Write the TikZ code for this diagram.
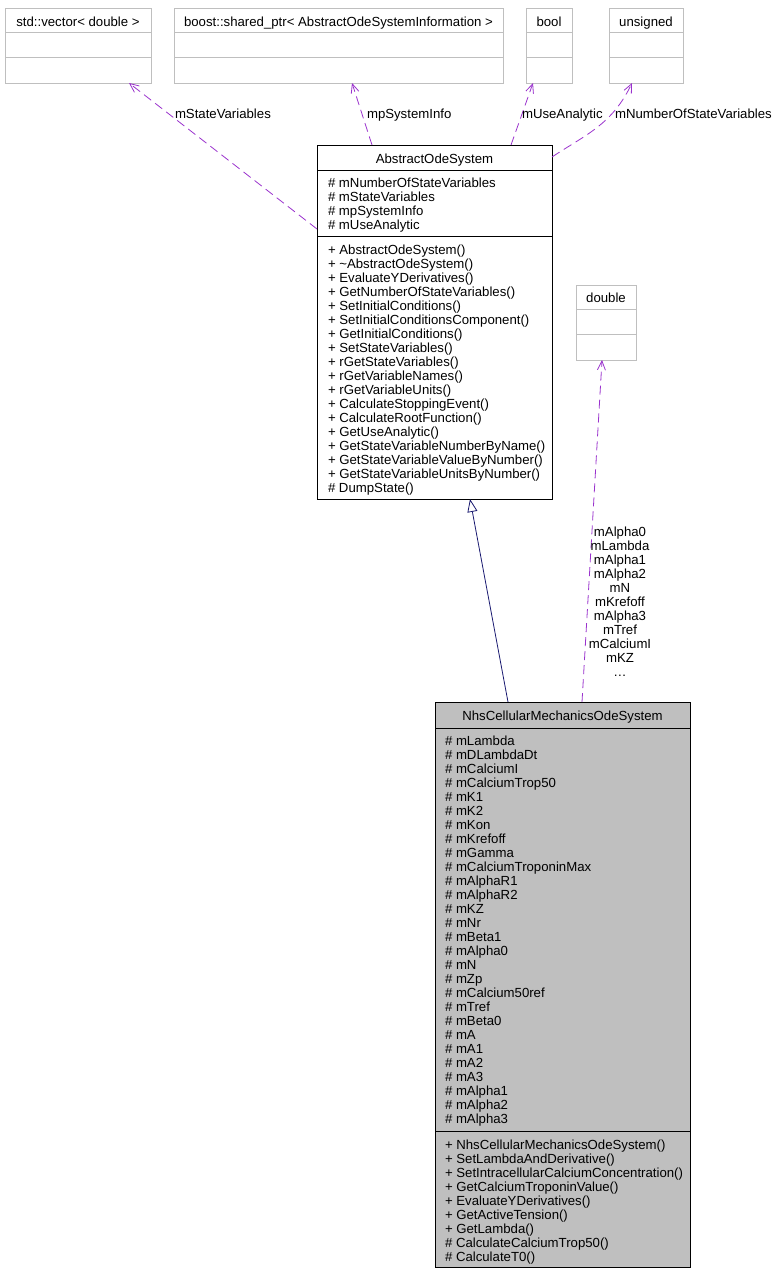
\documentclass[tikz,border=0pt]{standalone}
\usepackage{fontspec}
\setmainfont{Liberation Sans}
\usetikzlibrary{arrows.meta,calc}
\definecolor{edgepurple}{HTML}{9A32CD}
\definecolor{inhblue}{HTML}{191970}
\definecolor{boxgray}{HTML}{BFBFBF}
\begin{document}
\begin{tikzpicture}[x=1pt,y=-1pt,
  txt/.style={font=\fontsize{13.2}{14}\selectfont, inner sep=0pt, outer sep=0pt},
  cls/.style={draw, inner sep=0pt, outer sep=0pt, anchor=north west, line width=0.9pt},
  ext/.style={cls, draw=boxgray},
  divline/.style={line width=0.9pt},
  dep/.style={edgepurple, line width=0.8pt, dash pattern=on 9pt off 5pt, -{Straight Barb[length=9pt,width=8pt]}},
  inh/.style={inhblue, line width=0.8pt, -{Triangle[open,fill=white,length=13pt,width=10pt]}}
]
\useasboundingbox (0,0) rectangle (776,1272);

% ---------- external type boxes ----------
\node[ext, minimum width=146pt, minimum height=75pt] (vec) at (5,8) {};
\node[ext, minimum width=329pt, minimum height=75pt] (boost) at (174,8) {};
\node[ext, minimum width=46pt, minimum height=75pt] (bool) at (526,8) {};
\node[ext, minimum width=74pt, minimum height=75pt] (uns) at (609,8) {};
\node[ext, minimum width=60pt, minimum height=75pt] (dbl) at (576,285) {};
\foreach \b in {vec,boost,bool,uns,dbl}{
  \draw[divline, boxgray] ($(\b.north west)+(0,24)$) -- ($(\b.north east)+(0,24)$);
  \draw[divline, boxgray] ($(\b.north west)+(0,49)$) -- ($(\b.north east)+(0,49)$);
}
\node[txt, anchor=base] (vect) at ($(vec.north)+(0,18)$) {std::vector< double >};
\node[txt, anchor=base] (boostt) at ($(boost.north)+(0,18)$) {boost::shared\_ptr< AbstractOdeSystemInformation >};
\node[txt, anchor=base] (boolt) at ($(bool.north)+(0,18)$) {bool};
\node[txt, anchor=base] (unst) at ($(uns.north)+(0,18)$) {unsigned};
\node[txt, anchor=base] (dblt) at ($(dbl.north)+(0,17.5)$) {double};

% ---------- AbstractOdeSystem ----------
\node[cls, minimum width=235pt, minimum height=354pt] (abs) at (317,145) {};
\draw[divline] ($(abs.north west)+(0,25)$) -- ($(abs.north east)+(0,25)$);
\draw[divline] ($(abs.north west)+(0,91)$) -- ($(abs.north east)+(0,91)$);
\node[txt, anchor=base] (abst) at ($(abs.north)+(0,18.5)$) {AbstractOdeSystem};
\foreach \t [count=\i from 0] in {mNumberOfStateVariables,mStateVariables,mpSystemInfo,mUseAnalytic}{
  \node[txt, anchor=base west] (absa\i) at ($(abs.north west)+(11,42+14*\i)$) {\# \t};
}
\foreach \t [count=\i from 0] in {{+ AbstractOdeSystem()},{+ \textasciitilde AbstractOdeSystem()},{+ EvaluateYDerivatives()},{+ GetNumberOfStateVariables()},{+ SetInitialConditions()},{+ SetInitialConditionsComponent()},{+ GetInitialConditions()},{+ SetStateVariables()},{+ rGetStateVariables()},{+ rGetVariableNames()},{+ rGetVariableUnits()},{+ CalculateStoppingEvent()},{+ CalculateRootFunction()},{+ GetUseAnalytic()},{+ GetStateVariableNumberByName()},{+ GetStateVariableValueByNumber()},{+ GetStateVariableUnitsByNumber()},{\# DumpState()}}{
  \node[txt, anchor=base west] (absm\i) at ($(abs.north west)+(11,109+14*\i)$) {\t};
}

% ---------- NhsCellularMechanicsOdeSystem ----------
\node[cls, fill=boxgray, minimum width=255pt, minimum height=565pt] (nhs) at (435,702) {};
\draw[divline] ($(nhs.north west)+(0,26)$) -- ($(nhs.north east)+(0,26)$);
\draw[divline] ($(nhs.north west)+(0,429)$) -- ($(nhs.north east)+(0,429)$);
\node[txt, anchor=base] (nhst) at ($(nhs.north)+(0,18.5)$) {NhsCellularMechanicsOdeSystem};
\foreach \t [count=\i from 0] in {mLambda,mDLambdaDt,mCalciumI,mCalciumTrop50,mK1,mK2,mKon,mKrefoff,mGamma,mCalciumTroponinMax,mAlphaR1,mAlphaR2,mKZ,mNr,mBeta1,mAlpha0,mN,mZp,mCalcium50ref,mTref,mBeta0,mA,mA1,mA2,mA3,mAlpha1,mAlpha2,mAlpha3}{
  \node[txt, anchor=base west] (nhsa\i) at ($(nhs.north west)+(10,43+14*\i)$) {\# \t};
}
\foreach \t [count=\i from 0] in {{+ NhsCellularMechanicsOdeSystem()},{+ SetLambdaAndDerivative()},{+ SetIntracellularCalciumConcentration()},{+ GetCalciumTroponinValue()},{+ EvaluateYDerivatives()},{+ GetActiveTension()},{+ GetLambda()},{\# CalculateCalciumTrop50()},{\# CalculateT0()}}{
  \node[txt, anchor=base west] (nhsm\i) at ($(nhs.north west)+(10,447+14*\i)$) {\t};
}

% ---------- connectors ----------
\draw[dep] ($(abs.north west)+(0,84)$) -- ($(vec.south west)+(124,0)$);
\draw[dep] ($(abs.north west)+(55,0)$) -- ($(boost.south west)+(178,0)$);
\draw[dep] ($(abs.north west)+(194,0)$) -- ($(bool.south west)+(7,0)$);
\draw[dep] ($(abs.north east)+(0,12)$) .. controls (585,135) and (612,125) .. ($(uns.south west)+(23,0)$);
\draw[inh] ($(nhs.north west)+(73,0)$) -- ($(abs.south west)+(153,0)$);
\draw[dep] ($(nhs.north west)+(147,0)$) -- ($(dbl.south west)+(26,0)$);

% ---------- connector labels ----------
\node[txt, anchor=base west] (lsv) at (175,118) {mStateVariables};
\node[txt, anchor=base west] (lpsi) at (367,118) {mpSystemInfo};
\node[txt, anchor=base west] (lua) at (522,118) {mUseAnalytic};
\node[txt, anchor=base west] (lnsv) at (615,118) {mNumberOfStateVariables};
\foreach \t [count=\i from 0] in {mAlpha0,mLambda,mAlpha1,mAlpha2,mN,mKrefoff,mAlpha3,mTref,mCalciumI,mKZ}{
  \node[txt, anchor=base] (ld\i) at (620,536+14*\i) {\t};
}
\node[txt, anchor=base] (ldmore) at (620,676) {\ldots};
\end{tikzpicture}
\end{document}
